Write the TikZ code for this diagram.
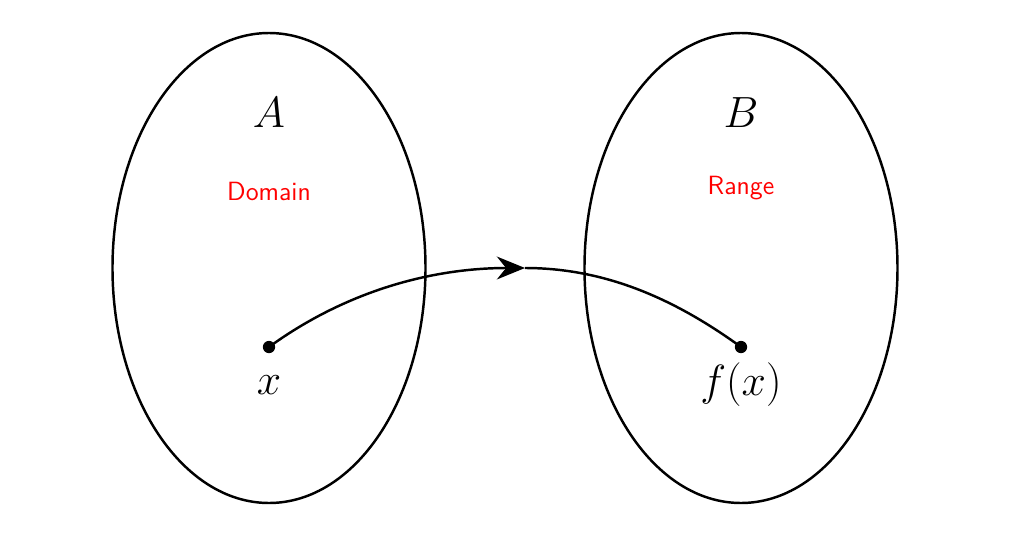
\documentclass[tikz,border=0pt]{standalone}
\usetikzlibrary{arrows.meta}
\begin{document}
\begin{tikzpicture}[
  set/.style={draw,line width=1.4pt},
  big/.style={font=\fontsize{37}{40}\selectfont},
  lab/.style={text=red,font=\sffamily\fontsize{15}{17}\selectfont},
  dot/.style={circle,fill,inner sep=0pt,minimum size=7pt}]
\useasboundingbox (0,0) rectangle (20.22,-10.76);
\draw[set] (5.38,-5.36) ellipse [x radius=3.13,y radius=4.7];
\draw[set] (14.82,-5.36) ellipse [x radius=3.13,y radius=4.7];
\node[big] (A) at (5.38,-2.25) {$A$};
\node[big] (B) at (14.82,-2.25) {$B$};
\node[lab] (dom) at (5.38,-3.82) {Domain};
\node[lab] (ran) at (14.82,-3.76) {Range};
\node[dot] (x) at (5.38,-6.94) {};
\node[dot] (fx) at (14.82,-6.94) {};
\node[big] (xl) at (5.38,-7.7) {$x$};
\node[big] (fxl) at (14.82,-7.7) {$f(x)$};
\coordinate (m) at (10.5,-5.36);
\draw[line width=1.4pt,-{Stealth[length=16pt,width=13pt]}] (x.center) to[out=36,in=180,looseness=0.9] (m);
\draw[line width=1.4pt] (m) to[out=0,in=144,looseness=0.9] (fx.center);
\end{tikzpicture}
\end{document}
